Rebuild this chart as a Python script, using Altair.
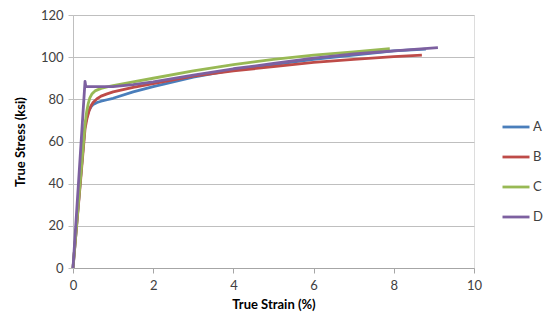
import altair as alt
import pandas as pd

series = ["A", "B", "C", "D"]
colors = ["#4A7EBB", "#BE4B48", "#98B954", "#7D60A0"]

strain_A = [0, 0.3, 0.35, 0.4, 0.45, 0.5, 0.6, 0.7, 0.85, 1.0, 1.5, 2.0, 3.0, 4.0, 5.0, 6.0, 7.0, 8.0, 8.8]
stress_A = [0, 68, 72, 74.8, 76.5, 77.5, 78.5, 79.1, 79.8, 80.5, 83.5, 86, 90.5, 94, 96.5, 99, 101, 103, 103.8]

strain_B = [0, 0.3, 0.35, 0.4, 0.45, 0.5, 0.6, 0.7, 0.85, 1.0, 1.5, 2.0, 3.0, 4.0, 5.0, 6.0, 7.0, 8.0, 8.7]
stress_B = [0, 66, 71, 74.5, 77, 78.5, 80.3, 81.5, 82.6, 83.5, 85.7, 87.5, 91, 93.5, 95.5, 97.5, 99, 100.3, 101]

strain_C = [0, 0.3, 0.34, 0.38, 0.42, 0.47, 0.55, 0.7, 0.85, 1.0, 1.5, 2.0, 3.0, 4.0, 5.0, 6.0, 7.0, 7.9]
stress_C = [0, 68, 74, 78, 80.7, 82.5, 84, 85.2, 85.9, 86.5, 88.3, 90, 93.5, 96.5, 99, 101, 102.5, 104]

strain_D = [0, 0.3, 0.32, 0.6, 1.0, 1.5, 2.0, 3.0, 4.0, 5.0, 6.0, 7.0, 8.0, 9.1]
stress_D = [0, 88.5, 86, 86, 86, 87, 88.3, 91.5, 94.5, 97, 99.5, 101.5, 103, 104.5]

rows = []
for name, xs, ys in [("A", strain_A, stress_A), ("B", strain_B, stress_B),
                     ("C", strain_C, stress_C), ("D", strain_D, stress_D)]:
    for i, (x, y) in enumerate(zip(xs, ys)):
        rows.append({"series": name, "idx": i, "strain": x, "stress": y})
df = pd.DataFrame(rows)

font = "Lato"

chart = alt.Chart(df).mark_line(strokeWidth=2.8, strokeCap="butt", strokeJoin="round").encode(
    x=alt.X("strain:Q", scale=alt.Scale(domain=[0, 10], nice=False),
            axis=alt.Axis(title="True Strain (%)", values=[0, 2, 4, 6, 8, 10],
                          grid=False, tickSize=5, tickColor="#A6A6A6",
                          domainColor="#A6A6A6", labelFontSize=13,
                          labelColor="#404040", labelPadding=6, labelFlush=False,
                          titleFontSize=13, titleFontWeight="bold",
                          titleColor="#000000", titlePadding=6)),
    y=alt.Y("stress:Q", scale=alt.Scale(domain=[0, 120], nice=False),
            axis=alt.Axis(title="True Stress (ksi)", values=[0, 20, 40, 60, 80, 100, 120],
                          grid=True, gridColor="#BFBFBF", tickSize=5,
                          tickColor="#BFBFBF", domainColor="#BFBFBF",
                          labelFontSize=13, labelColor="#404040", labelPadding=5,
                          labelFlush=False,
                          titleFontSize=13, titleFontWeight="bold",
                          titleColor="#000000", titlePadding=13)),
    color=alt.Color("series:N", scale=alt.Scale(domain=series, range=colors),
                    legend=alt.Legend(title=None, orient="none", legendX=428, legendY=97,
                                      symbolType="stroke", symbolSize=729,
                                      symbolStrokeWidth=2.8, rowPadding=8,
                                      labelFontSize=13, labelColor="#404040",
                                      labelOffset=2)),
    order=alt.Order("idx:Q"),
).properties(
    width=401, height=253,
    autosize=alt.AutoSizeParams(type="none"),
    padding={"left": 65, "top": 7, "right": 73, "bottom": 50},
).configure_view(stroke=None).configure(font=font)

chart.save("out.html", embed_options={"renderer": "svg", "actions": False})
